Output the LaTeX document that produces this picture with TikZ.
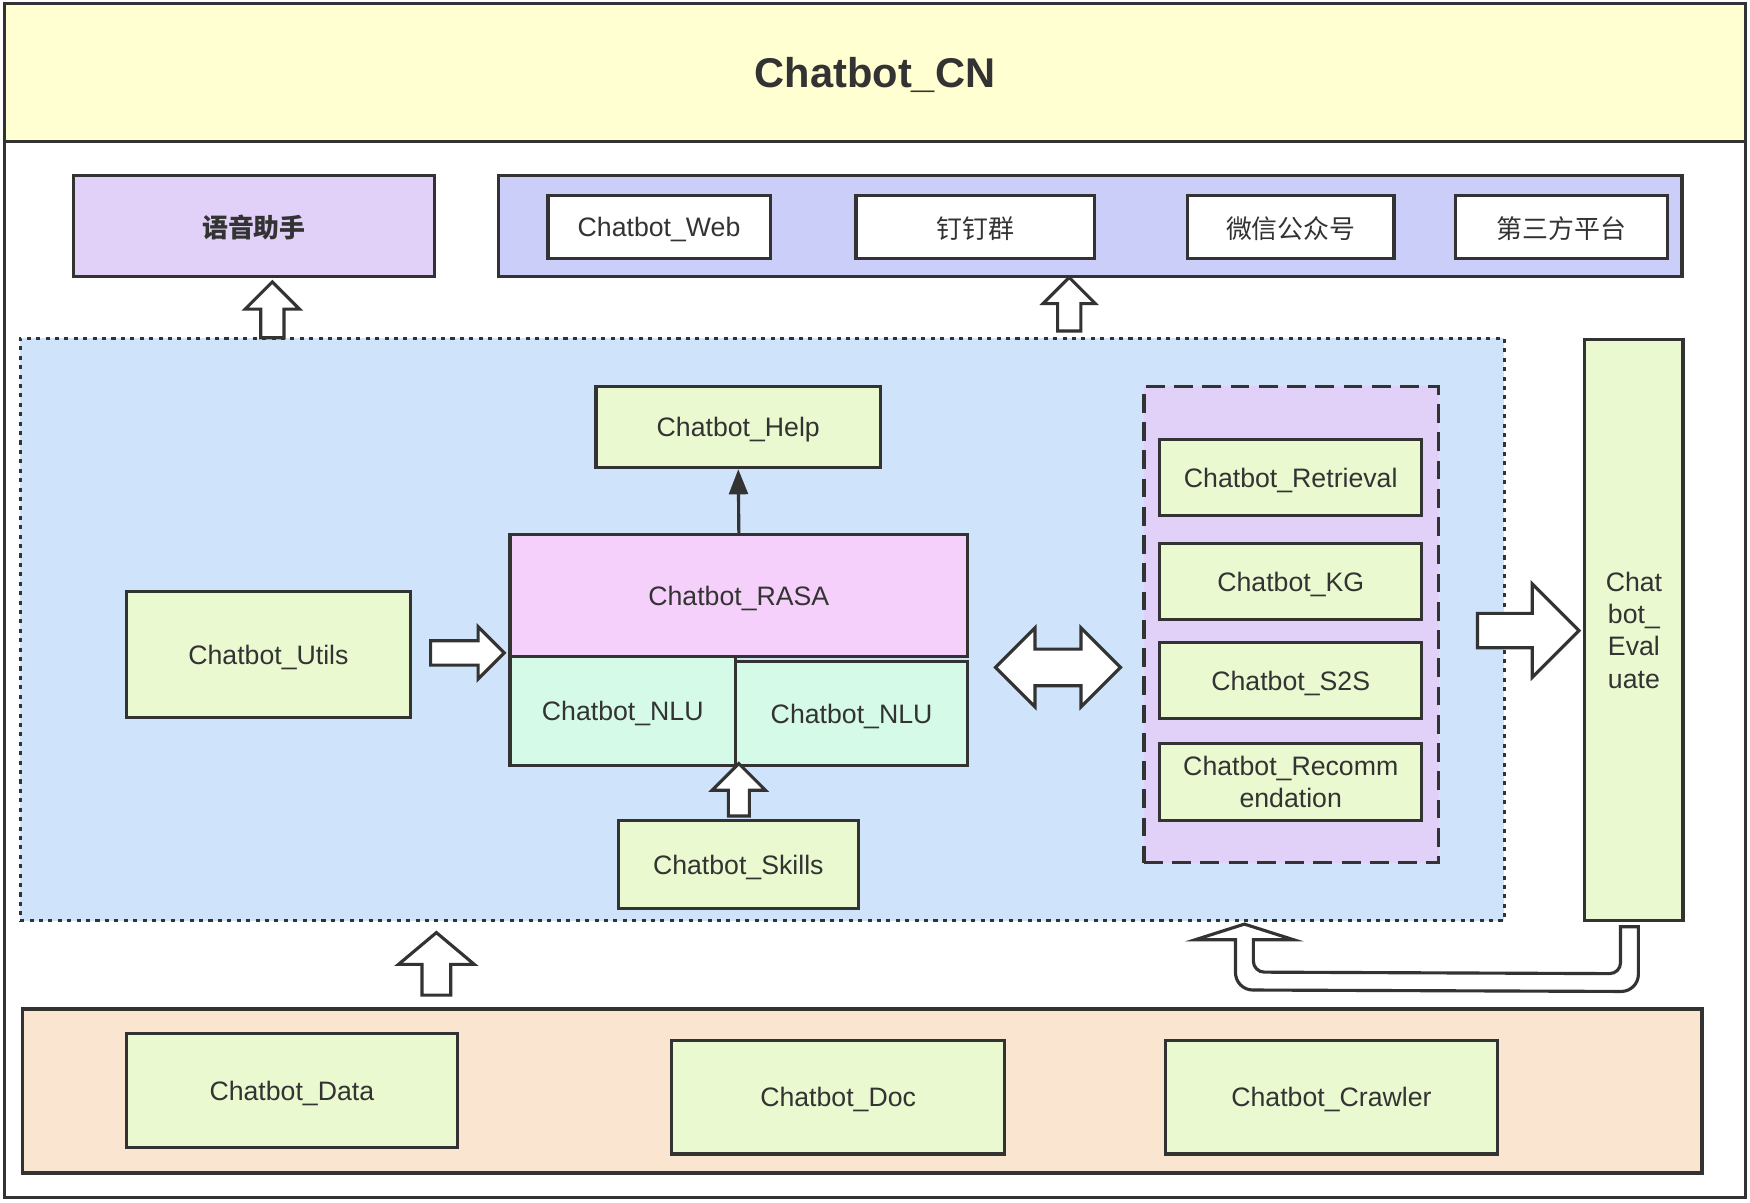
\documentclass[tikz,border=0pt]{standalone}
\usepackage{fontspec}
\setmainfont{Liberation Sans}
\newfontfamily\cjk{Noto Sans CJK SC}
\usetikzlibrary{shapes.arrows, arrows.meta, positioning, calc}
\definecolor{ink}{RGB}{51,51,51}
\definecolor{yellow10}{RGB}{255,255,209}
\definecolor{purple20}{RGB}{225,208,248}
\definecolor{blue20}{RGB}{204,206,250}
\definecolor{blue10}{RGB}{207,227,250}
\definecolor{green10}{RGB}{234,249,208}
\definecolor{pink20}{RGB}{245,208,250}
\definecolor{mint10}{RGB}{214,250,232}
\definecolor{orange10}{RGB}{250,230,208}
\tikzset{
  wh/.style 2 args={minimum width=#1*0.025cm, minimum height=#2*0.025cm}, % size in picture units
  panel/.style={rectangle, draw=ink, line width=2pt, inner sep=0pt, text=ink},
  multiblock/.style={panel, fill=green10, align=center, font=\fontsize{17}{20.6}\selectfont},
  block/.style={multiblock, text depth=0pt}, % one line of text, centred on caps
  cjktext/.style={font=\cjk\fontsize{16.5}{20}\selectfont},
  hollow/.style n args={3}{single arrow, draw=ink, line width=2pt, fill=white,
    inner xsep=0pt, inner ysep=#2*0.0125cm, minimum height=#1*0.025cm,
    minimum width=#3*0.025cm, single arrow head extend=(#3-#2)*0.0125cm, anchor=tail},
  hollowboth/.style n args={3}{double arrow, draw=ink, line width=2pt, fill=white,
    inner xsep=0pt, inner ysep=#2*0.0125cm, minimum height=#1*0.025cm,
    minimum width=#3*0.025cm, double arrow head extend=(#3-#2)*0.0125cm},
  link/.style={draw=ink, line width=2pt, -{Triangle[length=16pt,width=12pt]}}
}
\begin{document}
\begin{tikzpicture}[x=0.025cm, y=-0.025cm]
  \useasboundingbox (0,0) rectangle (1568,1077);

  % frame and title
  \node[panel, wh={1560}{1070}] (outer) at (784,538) {};
  \node[panel, fill=yellow10, wh={1560}{124}, text depth=0pt, font=\fontsize{26.5}{30}\selectfont\bfseries] (title) at (784,65) {Chatbot\_CN};

  % top row
  \node[panel, fill=purple20, wh={323}{91}, text depth=0pt, font=\cjk\fontsize{16.5}{20}\selectfont\bfseries] (voice) at (227.5,202.5) {语音助手};
  \node[panel, fill=blue20, wh={1060}{91}] (channels) at (977,202.5) {};
  \node[block, fill=white, wh={199}{57}] (web) at (590.5,203.5) {Chatbot\_Web};
  \node[block, fill=white, wh={214}{57}, cjktext] (dingtalk) at (874,203.5) {钉钉群};
  \node[block, fill=white, wh={185}{57}, cjktext] (wechat) at (1156.5,203.5) {微信公众号};
  \node[block, fill=white, wh={190}{57}, cjktext] (thirdparty) at (1399,203.5) {第三方平台};

  % core area
  \node[panel, fill=blue10, dash pattern=on 2.6pt off 3.4pt, wh={1330}{522}] (core) at (683,564) {};
  \node[block, wh={255}{73}] (help) at (661.5,382.5) {Chatbot\_Help};
  \node[block, fill=pink20, wh={410}{109}] (rasa) at (662,533.5) {Chatbot\_RASA};
  \node[block, fill=mint10, wh={202}{98}] (nlu1) at (558,637) {Chatbot\_NLU};
  \node[block, fill=mint10, wh={208}{93}] (nlu2) at (763,639.5) {Chatbot\_NLU};
  \node[block, wh={215}{79}] (skills) at (661.5,774.5) {Chatbot\_Skills};
  \node[block, wh={255}{113}] (utils) at (240.5,586.5) {Chatbot\_Utils};

  % answer engines
  \node[panel, fill=purple20, dash pattern=on 12pt off 6pt, wh={264}{427}] (engines) at (1157,559.5) {};
  \node[block, wh={235}{68}] (retrieval) at (1156.5,428) {Chatbot\_Retrieval};
  \node[block, wh={235}{68}] (kg) at (1156.5,521) {Chatbot\_KG};
  \node[block, wh={235}{68}] (s2s) at (1156.5,610) {Chatbot\_S2S};
  \node[multiblock, wh={235}{69}] (recomm) at (1156.5,700.5) {Chatbot\_Recomm\\endation};

  \node[multiblock, wh={88}{521}] (eval) at (1464,564.5) {Chat\\bot\_\\Eval\\uate};

  % data layer
  \node[panel, fill=orange10, wh={1505}{147}] (datalayer) at (772.5,977.5) {};
  \node[block, wh={297}{102}] (data) at (261.5,977) {Chatbot\_Data};
  \node[block, wh={298}{102}] (doc) at (751,983) {Chatbot\_Doc};
  \node[block, wh={298}{102}] (crawler) at (1193,983) {Chatbot\_Crawler};

  % block arrows
  \node[hollow={50}{18}{46}, rotate=90] (upvoice) at (244,304) {};
  \node[hollow={48}{18}{44}, rotate=90] (upchannels) at (958,298) {};
  \node[hollow={66}{19}{44}] (toutils) at ($(utils.east)+(15,-1.5)$) {};
  \node[hollowboth={112}{30}{68}] (toengines) at (948,598) {};
  \node[hollow={91}{28}{81}] (toeval) at ($(engines.east)+(32,5.5)$) {};
  \node[hollow={47}{16}{45}, rotate=90] (upskills) at ($(skills.north)+(0.5,-1)$) {};
  \node[hollow={56}{23}{65}, rotate=90, single arrow tip angle=100] (updata) at (391,893) {};

  % arrows
  \draw[link] (rasa.north) -- (help.south);
  \draw[draw=ink, line width=2pt, fill=white]
    ($(eval.south)+(4,4)$) [rounded corners=11pt] -- ++(0,58) -- (1107,887) [sharp corners]
    -- (1107,842) -- (1071,842) -- (1115,828) -- (1159,842) -- (1123,842)
    [rounded corners=7pt] -- (1123,871) -- ($(eval.south)+(-12,46)$) [sharp corners]
    -- ($(eval.south)+(-12,4)$) -- cycle;

\end{tikzpicture}
\end{document}
